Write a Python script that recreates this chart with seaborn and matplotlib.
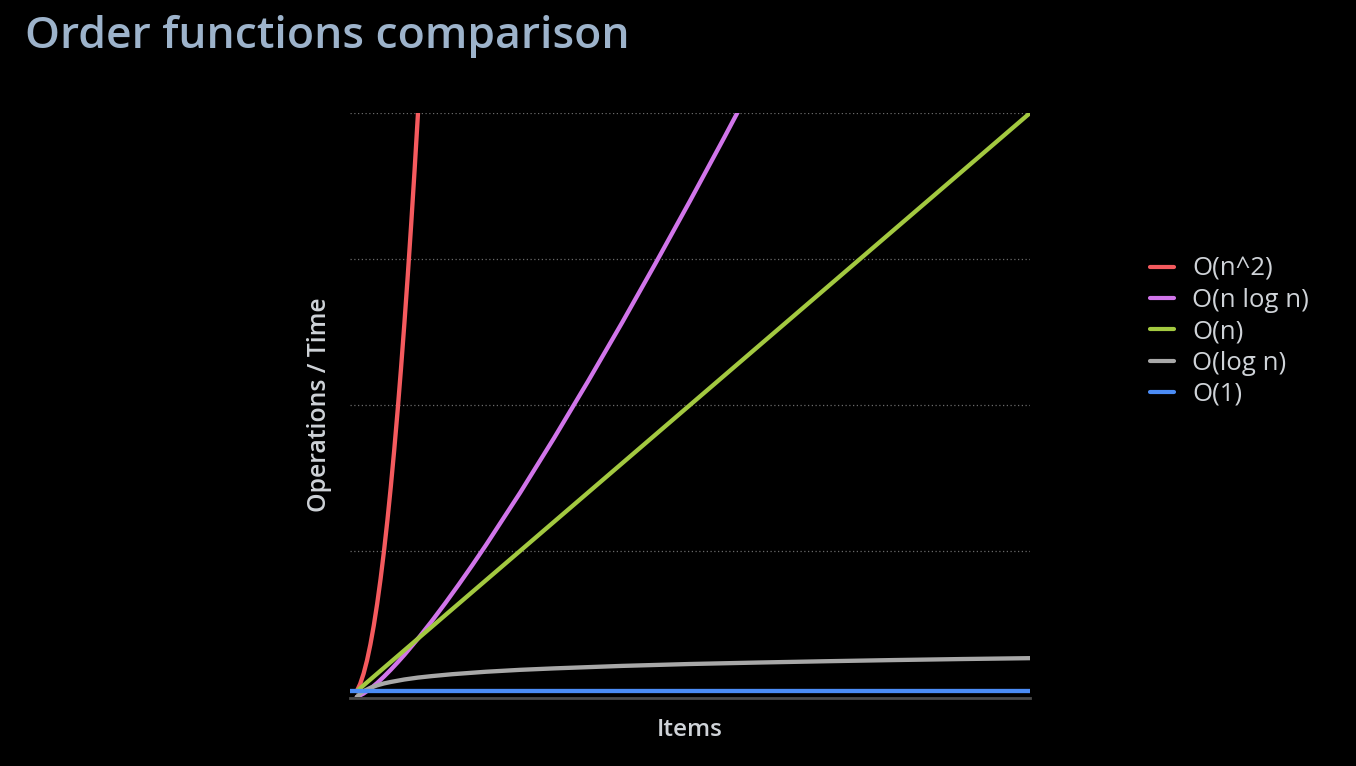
import pandas as pd
import matplotlib.pyplot as plt
import seaborn as sns

# values (items -> operations)
n_sq = [1, 1.5, 2, 2.5, 3, 3.5, 4, 4.5, 5, 5.5, 6, 6.5, 7, 7.5, 8, 8.5, 9, 9.5, 10, 10.5, 11]
ops_sq = [4, 9, 16, 25, 36, 49, 64, 81, 100, 121, 144, 169, 196, 225, 256, 289, 324, 361, 400, 441, 484]

n_nlogn = [1, 2, 3, 4, 5, 6, 7, 8, 10, 12, 14, 16, 18, 20, 25, 30, 35, 40, 45, 50, 55, 60]
ops_nlogn = [0, 2.4, 5.7, 9.6, 14.0, 18.7, 23.7, 28.9, 40, 51.8, 64.2, 77.1, 90.4, 104.1,
             139.8, 177.3, 216.2, 256.3, 297.6, 339.8, 382.9, 426.8]

n_lin = [1, 100]
ops_lin = [4, 400]

n_log = [1, 1.5, 2, 3, 4, 5, 6, 8, 10, 12, 15, 20, 25, 30, 40, 50, 60, 70, 80, 90, 100]
ops_log = [0, 2.3, 4, 6.3, 8, 9.3, 10.3, 12, 13.3, 14.3, 15.6, 17.3, 18.6, 19.6, 21.3,
           22.6, 23.6, 24.5, 25.3, 26.0, 26.6]

n_const = [0, 100]
ops_const = [4, 4]

labels = ['O(n^2)', 'O(n log n)', 'O(n)', 'O(log n)', 'O(1)']
colors = ['#f45a5e', '#d175ea', '#a3c940', '#a8a8a8', '#4b8cf5']

frames = []
for lab, xs, ys in zip(labels,
                       [n_sq, n_nlogn, n_lin, n_log, n_const],
                       [ops_sq, ops_nlogn, ops_lin, ops_log, ops_const]):
    frames.append(pd.DataFrame({'items': xs, 'ops': ys, 'order': lab}))
df = pd.concat(frames, ignore_index=True)

sns.set_style('dark')
plt.rcParams['font.family'] = ['Open Sans', 'DejaVu Sans']

fig = plt.figure(figsize=(13.56, 7.66), dpi=100, facecolor='black')
ax = fig.add_axes([350 / 1356, 1 - 697 / 766, 680 / 1356, 584 / 766])
ax.set_facecolor('black')

sns.lineplot(data=df, x='items', y='ops', hue='order', hue_order=labels,
             palette=dict(zip(labels, colors)), linewidth=3.1, sort=False,
             estimator=None, ax=ax)

ax.set_xlim(0, 100)
ax.set_ylim(0, 400)
ax.set_yticks([100, 200, 300, 400])
ax.set_xticks([])
ax.tick_params(left=False, labelleft=False)
ax.grid(axis='y', color='#6a6a6a', linestyle=(0, (1, 2)), linewidth=0.9)
ax.grid(axis='x', visible=False)
for side in ['top', 'right', 'left']:
    ax.spines[side].set_visible(False)
ax.spines['bottom'].set_color('#4a4a4a')
ax.spines['bottom'].set_linewidth(2)
ax.spines['bottom'].set_position(('outward', 1))

ax.set_xlabel('Items', color='#cfd3d8', fontsize=17.5, fontweight='semibold', labelpad=14)
ax.set_ylabel('Operations / Time', color='#cfd3d8', fontsize=17.8, fontweight='semibold', labelpad=13)

handles, labs = ax.get_legend_handles_labels()
leg = fig.legend(handles, labs, loc='upper left', bbox_to_anchor=(1150 / 1356, 1 - 257 / 766),
                 frameon=False, fontsize=18.5, handlelength=0.95, handletextpad=0.7,
                 labelspacing=0.24, borderpad=0, borderaxespad=0, labelcolor='#cfd3d8')
ax.get_legend().remove()
for h in leg.get_lines():
    h.set_linewidth(3)

fig.text(25 / 1356, 1 - 48 / 766, 'Order functions comparison', color='#9db3cb',
         fontsize=32, fontweight='semibold', ha='left', va='baseline')

fig.savefig('out.png', dpi=100, facecolor='black')
